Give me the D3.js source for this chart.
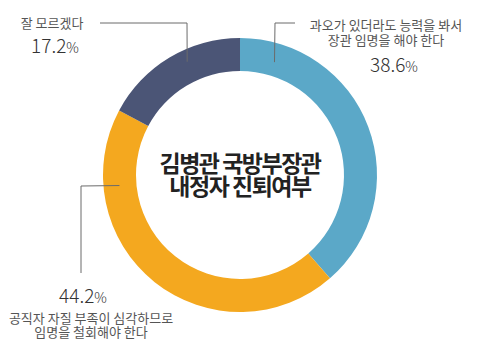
<!DOCTYPE html>
<html>
<head>
<meta charset="utf-8">
<script src="https://cdn.jsdelivr.net/npm/d3@7"></script>
<style>
	body { margin: 0; background: #fff; }
	text { font-family: "Noto Sans CJK KR", "Noto Sans", sans-serif; }
</style>
</head>
<body>
<div id="chart"></div>
<script>
// data
var categories = ['과오가 있더라도 능력을 봐서 장관 임명을 해야 한다', '공직자 자질 부족이 심각하므로 임명을 철회해야 한다', '잘 모르겠다'];
var values = [38.6, 44.2, 17.2];
var colors = ['#5ba8c8', '#f4a81f', '#4b5576'];
var labelLines = [
	['과오가 있더라도 능력을 봐서', '장관 임명을 해야 한다'],
	['공직자 자질 부족이 심각하므로', '임명을 철회해야 한다'],
	['잘 모르겠다']
];
var titleLines = ['김병관 국방부장관', '내정자 진퇴여부'];

var width = 480,
	height = 351,
	cx = 240,
	cy = 175,
	outerR = 137,
	innerR = 104;

var svg = d3.select('#chart')
	.append('svg')
		.attr('width', width)
		.attr('height', height);

var g = svg.append('g')
	.attr('transform', `translate(${cx},${cy})`);

var pie = d3.pie()
	.sort(null)
	.value(d => d);

var arc = d3.arc()
	.innerRadius(innerR)
	.outerRadius(outerR);

var arcs = pie(values);

g.selectAll('path.slice')
	.data(arcs)
	.enter()
	.append('path')
		.attr('class', 'slice')
		.attr('d', arc)
		.style('fill', (d, i) => colors[i]);

// leader lines: where each line touches the ring (angle in degrees, radius)
var anchors = [
	{ angle: 17, r: 118, elbow: [35, -152], end: [55, -152] },
	{ angle: 265, r: 121, elbow: [-159, 11], end: [-159, 98] },
	{ angle: 335, r: 125, elbow: [-53, -152], end: [-140, -152] }
];

anchors.forEach(function(a){
	var p = d3.pointRadial(a.angle * Math.PI / 180, a.r);
	g.append('polyline')
		.attr('points', [p, a.elbow, a.end].map(q => q.join(',')).join(' '))
		.style('fill', 'none')
		.style('stroke', '#6b6b6b')
		.style('stroke-width', 1);
});

// one text element per line
function addLines(x, y, lines, size, color, lh){
	var sel = svg.append('g');
	lines.forEach(function(l, i){
		sel.append('text')
			.attr('x', x)
			.attr('y', y + i * lh)
			.attr('text-anchor', 'middle')
			.style('font-size', size + 'px')
			.style('fill', color)
			.text(l);
	});
	return sel;
}

function addPct(x, y, v){
	var t = svg.append('text')
		.attr('x', x)
		.attr('y', y)
		.attr('text-anchor', 'middle')
		.style('font-size', '19px')
		.style('font-weight', 300)
		.style('fill', '#333');
	t.append('tspan').text(v.toFixed(1));
	t.append('tspan').style('font-size', '14px').text('%');
}

// 38.6
addLines(386, 30, labelLines[0], 13, '#555', 15);
addPct(394, 72, values[0]);

// 44.2
addPct(83, 303, values[1]);
addLines(91, 323, labelLines[1], 13, '#555', 14);

// 17.2
addLines(52, 28, labelLines[2], 13, '#555', 0);
addPct(55, 53, values[2]);

// center title
addLines(cx, 172, titleLines, 23, '#222', 23)
	.style('font-weight', 'bold')
	.style('letter-spacing', '-1.5px');
</script>
</body>
</html>
